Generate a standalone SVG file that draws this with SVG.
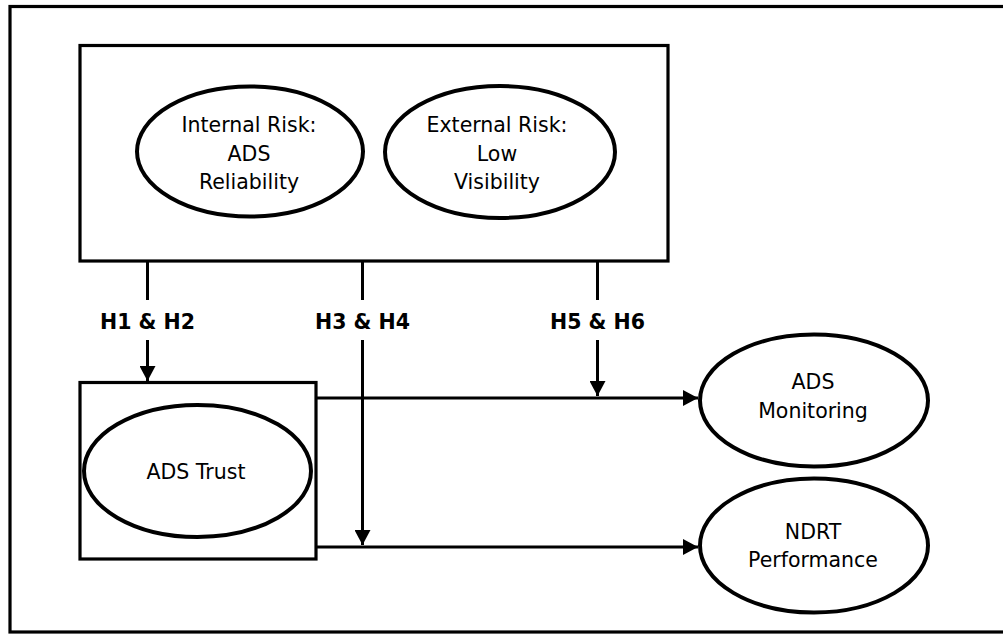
<svg xmlns="http://www.w3.org/2000/svg" width="1003" height="634" viewBox="0 0 1003 634">
<defs>
<style>
.box{fill:none;stroke:#000;stroke-width:3.2}
.ell{fill:#fff;stroke:#000;stroke-width:4}
.ln{fill:none;stroke:#000;stroke-width:3}
.t{font-family:"DejaVu Sans",sans-serif;font-size:20.5px;fill:#000;text-anchor:middle}
.lb{font-family:"DejaVu Sans",sans-serif;font-size:20.5px;font-weight:bold;fill:#000;text-anchor:middle}
</style>
<marker id="ah" markerWidth="18" markerHeight="16" refX="15" refY="8" orient="auto" markerUnits="userSpaceOnUse">
<path d="M0,0 L15,8 L0,16 Z" fill="#000"/>
</marker>
</defs>
<rect width="1003" height="634" fill="#fff"/>
<rect x="10" y="6.5" width="1020" height="625.5" class="box"/>
<g id="risk-group">
<rect x="80" y="45.5" width="588" height="215.5" class="box"/>
</g>
<g id="internal-risk">
<ellipse cx="250" cy="151.5" rx="113" ry="65" class="ell"/>
<text class="t" x="249" y="131.5">Internal Risk:</text>
<text class="t" x="249" y="160.5">ADS</text>
<text class="t" x="249" y="188.5">Reliability</text>
</g>
<g id="external-risk">
<ellipse cx="500" cy="152" rx="115" ry="66" class="ell"/>
<text class="t" x="497" y="131.5">External Risk:</text>
<text class="t" x="497" y="160.5">Low</text>
<text class="t" x="497" y="188.5">Visibility</text>
</g>
<g id="trust-box">
<rect x="80" y="382.5" width="236" height="176.5" class="box"/>
<ellipse cx="197.5" cy="471" rx="113.5" ry="66" class="ell"/>
<text class="t" x="196" y="479">ADS Trust</text>
</g>
<g id="ads-monitoring">
<ellipse cx="814" cy="400.5" rx="114" ry="66" class="ell"/>
<text class="t" x="813" y="389">ADS</text>
<text class="t" x="813" y="418">Monitoring</text>
</g>
<g id="ndrt-performance">
<ellipse cx="814" cy="545.5" rx="114" ry="67" class="ell"/>
<text class="t" x="813" y="539">NDRT</text>
<text class="t" x="813" y="567">Performance</text>
</g>
<g id="connectors">
<line x1="147.5" y1="261" x2="147.5" y2="300" class="ln"/>
<line x1="147.5" y1="340" x2="147.5" y2="381" class="ln" marker-end="url(#ah)"/>
<line x1="362.5" y1="261" x2="362.5" y2="300" class="ln"/>
<line x1="362.5" y1="340" x2="362.5" y2="545" class="ln" marker-end="url(#ah)"/>
<line x1="597.5" y1="261" x2="597.5" y2="300" class="ln"/>
<line x1="597.5" y1="340" x2="597.5" y2="396" class="ln" marker-end="url(#ah)"/>
<line x1="316" y1="398" x2="698" y2="398" class="ln" marker-end="url(#ah)"/>
<line x1="316" y1="547" x2="698" y2="547" class="ln" marker-end="url(#ah)"/>
<text class="lb" x="147.5" y="329">H1 &amp; H2</text>
<text class="lb" x="362.5" y="329">H3 &amp; H4</text>
<text class="lb" x="597.5" y="329">H5 &amp; H6</text>
</g>
</svg>
